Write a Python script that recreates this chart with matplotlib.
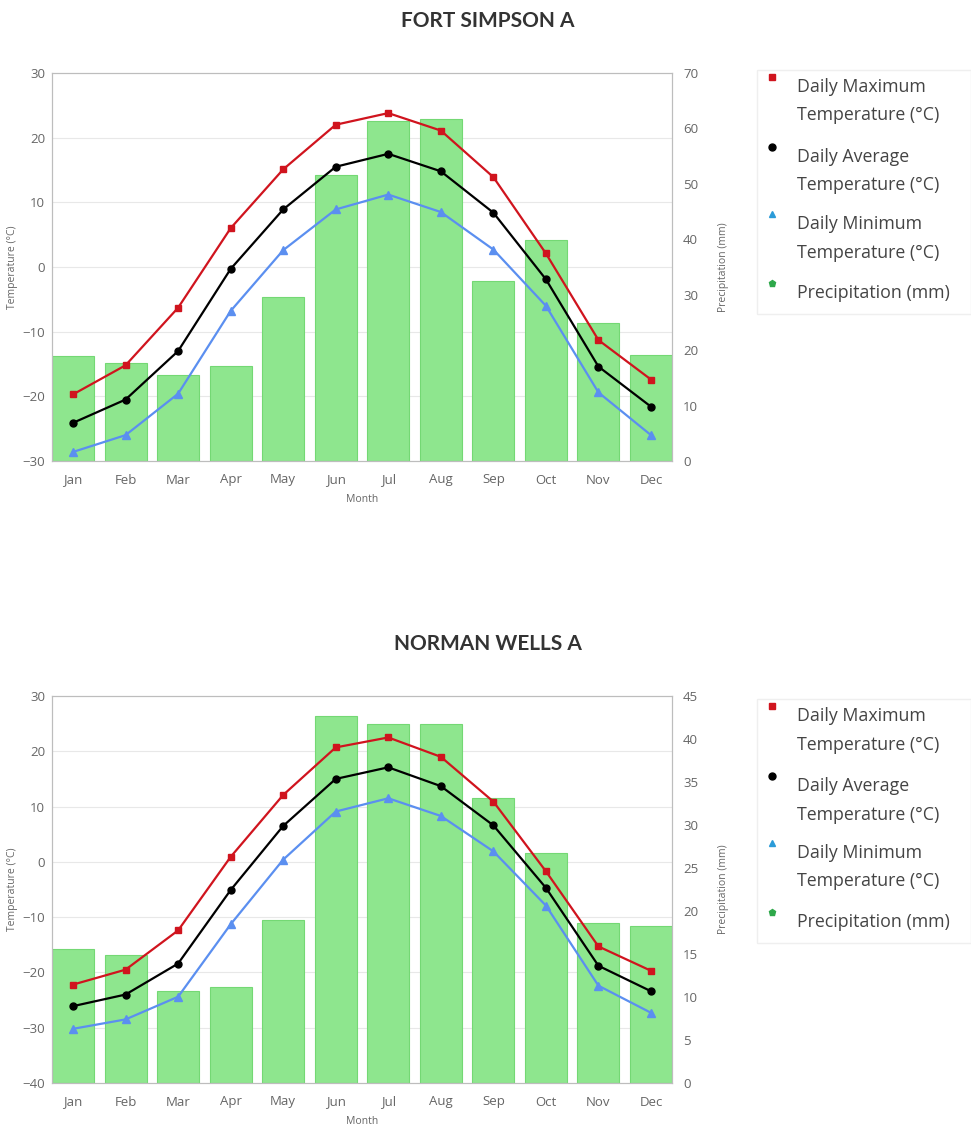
import numpy as np
import matplotlib
matplotlib.use('Agg')
import matplotlib.pyplot as plt
from matplotlib.lines import Line2D
from matplotlib.patches import Rectangle

plt.rcParams['font.family'] = ['Open Sans', 'DejaVu Sans']

months = ['Jan', 'Feb', 'Mar', 'Apr', 'May', 'Jun', 'Jul', 'Aug', 'Sep', 'Oct', 'Nov', 'Dec']

# Fort Simpson A
fs_max = [-19.7, -15.2, -6.3, 6.0, 15.1, 22.0, 23.8, 21.1, 13.9, 2.1, -11.3, -17.4]
fs_avg = [-24.1, -20.5, -13.0, -0.3, 8.9, 15.5, 17.5, 14.8, 8.4, -1.9, -15.4, -21.6]
fs_min = [-28.6, -26.0, -19.6, -6.8, 2.6, 8.9, 11.2, 8.5, 2.7, -6.0, -19.4, -26.0]
fs_precip = [18.9, 17.7, 15.6, 17.1, 29.6, 51.6, 61.4, 61.7, 32.5, 39.8, 24.9, 19.2]

# Norman Wells A
nw_max = [-22.2, -19.5, -12.4, 0.9, 12.1, 20.7, 22.5, 19.0, 10.9, -1.7, -15.3, -19.7]
nw_avg = [-26.1, -24.0, -18.4, -5.1, 6.5, 15.0, 17.1, 13.7, 6.6, -4.7, -18.8, -23.4]
nw_min = [-30.2, -28.5, -24.4, -11.3, 0.4, 9.1, 11.5, 8.3, 1.9, -7.9, -22.4, -27.3]
nw_precip = [15.6, 14.9, 10.7, 11.2, 19.0, 42.7, 41.8, 41.8, 33.1, 26.8, 18.6, 18.2]

W, H = 971, 1129
fig = plt.figure(figsize=(W / 100, H / 100), dpi=100)

RED = '#d0141e'
BLUE = '#5b8ff0'
BAR = '#8ee68e'
BAR_EDGE = '#74d874'
TICK = '#666666'


def px(x, y):
    return x / W, 1 - y / H


def draw_station(top, bottom, title, tmax, tavg, tmin, precip, tlim, tticks, plim, pticks, leg_top):
    x = np.arange(len(months))
    h = bottom - top
    ax = fig.add_axes([52 / W, 1 - bottom / H, 620 / W, h / H])
    axp = ax.twinx()

    # bars on the precipitation axis, drawn below the temperature lines
    axp.bar(x, precip, width=0.8, color=BAR, edgecolor=BAR_EDGE, linewidth=0.8, zorder=2)
    axp.set_ylim(*plim)
    axp.set_yticks(pticks)
    ax.set_zorder(axp.get_zorder() + 1)
    ax.patch.set_visible(False)

    # faint temperature grid behind bars
    for t in tticks[1:-1]:
        axp.add_line(Line2D([0, 1], [t, t], transform=ax.get_yaxis_transform(),
                            color='#e8e8e8', lw=0.8, zorder=1))

    ax.plot(x, tmax, color=RED, lw=1.6, marker='s', ms=4.5)
    ax.plot(x, tavg, color='black', lw=1.6, marker='o', ms=5)
    ax.plot(x, tmin, color=BLUE, lw=1.6, marker='^', ms=5.5)

    ax.set_xlim(-0.4, 11.4)
    ax.set_ylim(*tlim)
    ax.set_yticks(tticks)
    ax.set_xticks(x)
    ax.set_xticklabels(months)

    for a in (ax, axp):
        for s in a.spines.values():
            s.set_color('#bdbdbd')
            s.set_linewidth(0.8)
        a.tick_params(length=0, colors=TICK, labelsize=9.5)
    ax.tick_params(axis='y', pad=5)
    axp.tick_params(axis='y', pad=8)
    ax.tick_params(axis='x', pad=9)

    ax.set_ylabel('Temperature (°C)', fontsize=7.5, color=TICK)
    axp.set_ylabel('Precipitation (mm)', fontsize=7.5, color=TICK)
    ax.set_xlabel('Month', fontsize=7.5, color=TICK)
    ax.yaxis.set_label_coords((18 - 52) / 620, 0.5)
    axp.yaxis.set_label_coords((718 - 52) / 620, 0.5)
    ax.xaxis.set_label_coords(0.5, -33 / h)

    fig.text(*px(488, top - 52), title, ha='center', va='center', family='Lato',
             fontsize=15, fontweight='bold', color='#333333')

    # legend
    fig.add_artist(Rectangle(px(757, leg_top + 244), 214 / W, 244 / H,
                             transform=fig.transFigure, facecolor='white',
                             edgecolor='#efefef', lw=1))
    entries = [
        ('s', RED, 'Daily Maximum\nTemperature (°C)', 7),
        ('o', 'black', 'Daily Average\nTemperature (°C)', 77),
        ('^', '#2b9bd8', 'Daily Minimum\nTemperature (°C)', 144),
        ('p', '#2ea84a', 'Precipitation (mm)', 213),
    ]
    for mk, col, label, dy in entries:
        fig.add_artist(Line2D([772 / W], [1 - (leg_top + dy) / H], marker=mk,
                              color=col, ms=5, transform=fig.transFigure, lw=0))
        fig.text(*px(797, leg_top + dy + 1), label, ha='left', va='top',
                 fontsize=12.8, color='#444444', linespacing=1.75)


draw_station(73, 461, 'FORT SIMPSON A', fs_max, fs_avg, fs_min, fs_precip,
             (-30, 30), np.arange(-30, 31, 10), (0, 70), np.arange(0, 71, 10), 70)
draw_station(696, 1083, 'NORMAN WELLS A', nw_max, nw_avg, nw_min, nw_precip,
             (-40, 30), np.arange(-40, 31, 10), (0, 45), np.arange(0, 46, 5), 699)

fig.savefig('out.png', dpi=100)
